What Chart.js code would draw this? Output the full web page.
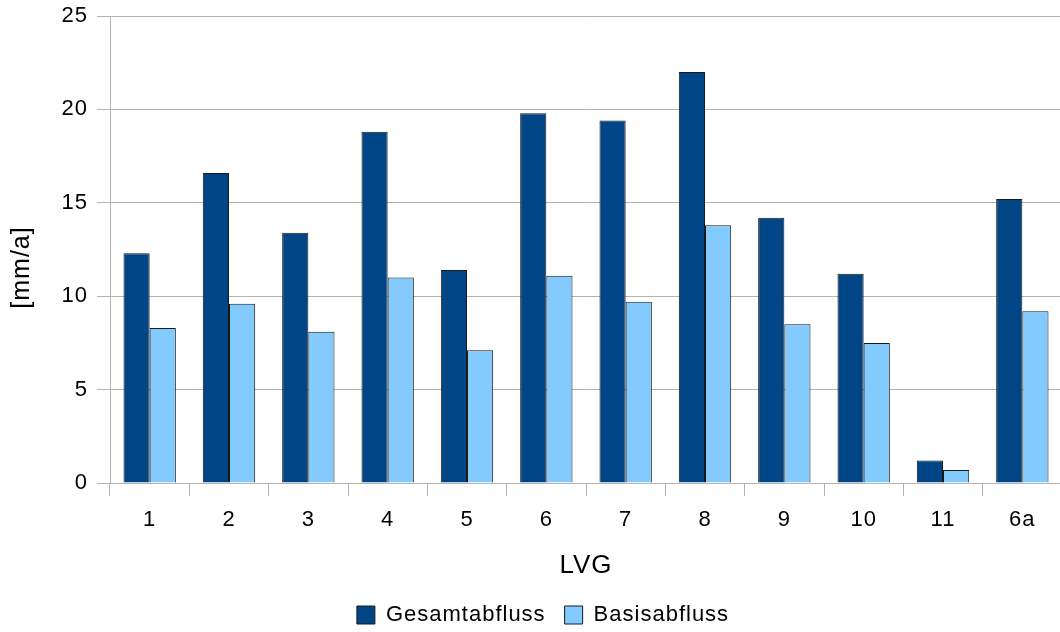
<!DOCTYPE html>
<html>
<head>
<meta charset="utf-8">
<script src="https://cdn.jsdelivr.net/npm/chart.js@4"></script>
<style>
  html, body { margin: 0; padding: 0; background: #fff; }
  #wrap { width: 1060px; height: 632px; overflow: hidden; position: relative; }
  #box { width: 1062px; height: 632px; }
</style>
</head>
<body>
<div id="wrap"><div id="box"><canvas id="c"></canvas></div></div>
<script>
// LVG catchments and annual runoff components in mm/a
const categories = ['1', '2', '3', '4', '5', '6', '7', '8', '9', '10', '11', '6a'];
const gesamtabfluss = [12.3, 16.6, 13.4, 18.8, 11.4, 19.8, 19.4, 22.0, 14.2, 11.2, 1.2, 15.2];
const basisabfluss  = [8.3, 9.6, 8.1, 11.0, 7.1, 11.1, 9.7, 13.8, 8.5, 7.5, 0.7, 9.2];
const yTicks = [0, 5, 10, 15, 20, 25];

const FONT = 'Liberation Sans, Arial, sans-serif';
const GRID = '#b3b3b3';

// Slightly loose text tracking for all chart labels
const tracking = {
  id: 'tracking',
  beforeUpdate(chart) { chart.ctx.letterSpacing = '1px'; },
  beforeDraw(chart) { chart.ctx.letterSpacing = '1px'; }
};

// Shift the legend block a little to the right of the canvas centre
const legendShift = {
  id: 'legendShift',
  afterLayout(chart) {
    if (chart.legend) { chart.legend.left += 24; }
  }
};

// Rotated y-axis caption, placed left of the tick labels
const yCaption = {
  id: 'yCaption',
  afterDraw(chart) {
    const { ctx, chartArea } = chart;
    ctx.save();
    ctx.letterSpacing = '1px';
    ctx.translate(22, (chartArea.top + chartArea.bottom) / 2 + 18);
    ctx.rotate(-Math.PI / 2);
    ctx.font = '25px ' + FONT;
    ctx.fillStyle = '#000';
    ctx.textAlign = 'center';
    ctx.textBaseline = 'middle';
    ctx.fillText('[mm/a]', 0, 0);
    ctx.restore();
  }
};

new Chart(document.getElementById('c'), {
  type: 'bar',
  data: {
    labels: categories,
    datasets: [
      {
        label: 'Gesamtabfluss',
        data: gesamtabfluss,
        backgroundColor: '#004586',
        borderColor: '#1a1a1a',
        borderWidth: 1
      },
      {
        label: 'Basisabfluss',
        data: basisabfluss,
        backgroundColor: '#83caff',
        borderColor: '#1a1a1a',
        borderWidth: 1
      }
    ]
  },
  options: {
    responsive: true,
    maintainAspectRatio: false,
    animation: false,
    layout: { padding: { top: 16, right: 0, bottom: -4, left: 0 } },
    datasets: { bar: { categoryPercentage: 0.66, barPercentage: 1.0 } },
    plugins: {
      tooltip: { enabled: false },
      legend: {
        position: 'bottom',
        labels: {
          font: { family: FONT, size: 22 },
          color: '#000',
          boxWidth: 18,
          boxHeight: 18,
          padding: 19,
          useBorderRadius: false
        }
      }
    },
    scales: {
      x: {
        afterFit(scale) { scale.height = 102; },
        grid: {
          offset: true,
          drawOnChartArea: false,
          drawTicks: true,
          tickLength: 13,
          color: GRID
        },
        border: { display: true, color: GRID },
        ticks: {
          font: { family: FONT, size: 22 },
          color: '#000',
          padding: 11,
          maxRotation: 0
        },
        title: {
          display: true,
          text: 'LVG',
          font: { family: FONT, size: 26 },
          color: '#000',
          padding: { top: 10, bottom: 4 }
        }
      },
      y: {
        min: 0,
        max: 25,
        afterBuildTicks(scale) {
          scale.ticks = yTicks.map(v => ({ value: v }));
        },
        afterFit(scale) { scale.width = 110; },
        grid: {
          color: GRID,
          tickLength: 13,
          drawTicks: true
        },
        border: { display: true, color: GRID },
        ticks: {
          font: { family: FONT, size: 22, lineHeight: 0.5 },
          color: '#000',
          padding: 9
        }
      }
    }
  },
  plugins: [tracking, legendShift, yCaption]
});
</script>
</body>
</html>
